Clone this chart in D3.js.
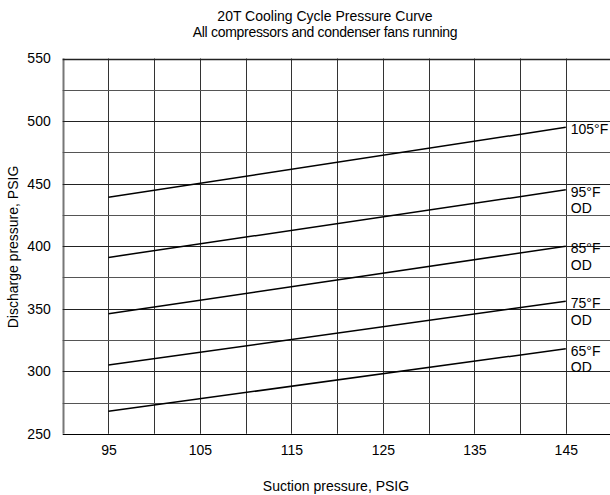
<!DOCTYPE html>
<html>
<head>
<meta charset="utf-8">
<script src="https://cdn.jsdelivr.net/npm/d3@7"></script>
<style>
  html, body { margin: 0; padding: 0; background: #fff; }
  svg { display: block; font-family: "Liberation Sans", Arial, sans-serif; }
</style>
</head>
<body>
<svg id="chart" width="610" height="495"></svg>
<script>
// ---- data ----
const titleLines = ["20T Cooling Cycle Pressure Curve", "All compressors and condenser fans running"];
const xLabel = "Suction pressure, PSIG";
const yLabel = "Discharge pressure, PSIG";
const xTickValues = [95, 105, 115, 125, 135, 145];
const yTickValues = [250, 300, 350, 400, 450, 500, 550];
const suction = [95, 145];
const od105 = [439, 495];
const od95 = [391, 445];
const od85 = [346, 400];
const od75 = [305, 356];
const od65 = [268, 318];
const seriesNames = [["105°F"], ["95°F", "OD"], ["85°F", "OD"], ["75°F", "OD"], ["65°F", "OD"]];
const seriesValues = [od105, od95, od85, od75, od65];

// ---- layout ----
const svg = d3.select("#chart");
const x = d3.scaleLinear().domain([90, 150]).range([62.7, 611.5]);
const y = d3.scaleLinear().domain([250, 550]).range([433.8, 58.5]);
const FS = 14;

// grid
const g = svg.append("g");
const xGrid = d3.range(90, 150.01, 5);
const yGrid = d3.range(250, 550.01, 25);
g.selectAll("line.v").data(xGrid).enter().append("line")
  .attr("x1", d => Math.round(x(d)) + 0.5).attr("x2", d => Math.round(x(d)) + 0.5)
  .attr("y1", y(550)).attr("y2", y(250))
  .attr("stroke", (d, i) => i === 0 ? "#777" : "#333")
  .attr("stroke-width", (d, i) => i === 0 ? 2 : 1);
g.selectAll("line.h").data(yGrid).enter().append("line")
  .attr("x1", x(90)).attr("x2", x(150))
  .attr("y1", d => Math.round(y(d)) + 0.5).attr("y2", d => Math.round(y(d)) + 0.5)
  .attr("stroke", d => d === 250 ? "#000" : (d % 50 === 0 ? "#222" : "#555"))
  .attr("stroke-width", d => (d === 550 ? 1.5 : 1));

// axes labels via d3 axes
const xAxis = svg.append("g").attr("transform", `translate(0,${y(250)})`)
  .call(d3.axisBottom(x).tickValues(xTickValues).tickSize(0).tickPadding(11));
xAxis.select(".domain").remove();
xAxis.selectAll("text").attr("font-size", FS).attr("fill", "#000")
  .attr("font-family", "Liberation Sans, Arial, sans-serif");

const yAxis = svg.append("g").attr("transform", `translate(${x(90)},0)`)
  .call(d3.axisLeft(y).tickValues(yTickValues).tickSize(0).tickPadding(12));
yAxis.select(".domain").remove();
yAxis.selectAll("text").attr("font-size", FS).attr("fill", "#000")
  .attr("font-family", "Liberation Sans, Arial, sans-serif");

// lines
const line = d3.line().x(d => x(d[0])).y(d => y(d[1]));
seriesValues.forEach((vals, i) => {
  const pts = suction.map((s, j) => [s, vals[j]]);
  svg.append("path").attr("d", line(pts)).attr("fill", "none")
    .attr("stroke", "#000").attr("stroke-width", 1.5);
  const lastX = x(suction[suction.length - 1]);
  const lastY = y(vals[vals.length - 1]);
  const t = svg.append("text").attr("x", lastX + 5).attr("y", lastY + 7)
    .attr("font-size", FS).attr("fill", "#000");
  seriesNames[i].forEach((s, k) => {
    t.append("tspan").attr("x", lastX + 5).attr("dy", k === 0 ? 0 : 16.5).text(s);
  });
});

// titles
svg.append("text").attr("x", 325).attr("y", 21).attr("text-anchor", "middle")
  .attr("font-size", FS).text(titleLines[0]);
svg.append("text").attr("x", 325).attr("y", 37).attr("text-anchor", "middle")
  .attr("font-size", FS).attr("letter-spacing", -0.3).text(titleLines[1]);
svg.append("text").attr("x", 336).attr("y", 491).attr("text-anchor", "middle")
  .attr("font-size", FS).text(xLabel);
svg.append("text").attr("transform", "translate(18,247) rotate(-90)")
  .attr("text-anchor", "middle").attr("font-size", FS).text(yLabel);
</script>
</body>
</html>
